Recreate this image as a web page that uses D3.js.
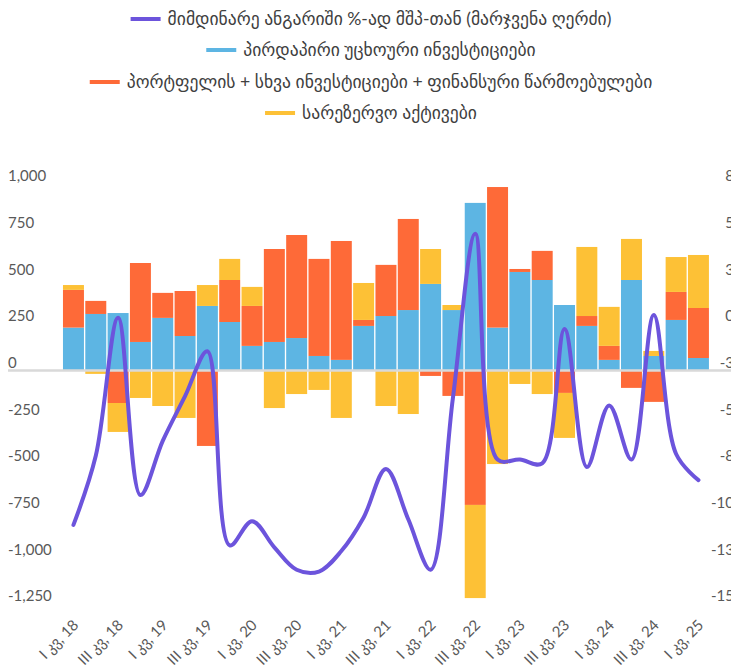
<!DOCTYPE html>
<html>
<head>
<meta charset="utf-8">
<script src="https://cdn.jsdelivr.net/npm/d3@7"></script>
<style>
  body { margin: 0; background: #fff; }
  text { font-family: Lato, "DejaVu Sans", sans-serif; }
</style>
</head>
<body>
<div id="chart"></div>
<script>
// quarters, I 2018 - I 2025
var quarters = ["I კვ, 18","II კვ, 18","III კვ, 18","IV კვ, 18",
                "I კვ, 19","II კვ, 19","III კვ, 19","IV კვ, 19",
                "I კვ, 20","II კვ, 20","III კვ, 20","IV კვ, 20",
                "I კვ, 21","II კვ, 21","III კვ, 21","IV კვ, 21",
                "I კვ, 22","II კვ, 22","III კვ, 22","IV კვ, 22",
                "I კვ, 23","II კვ, 23","III კვ, 23","IV კვ, 23",
                "I კვ, 24","II კვ, 24","III კვ, 24","IV კვ, 24",
                "I კვ, 25"]

// financial account components, mln USD (left axis)
var fdi       = [227,300,305,150,279,182,343,257,129,150,171,75,54,236,289,321,461,321,895,227,525,482,348,236,54,482,75,268,64]
var portfolio = [202,70,-177,423,134,241,-407,225,214,498,552,520,637,32,274,488,-32,-139,-723,753,16,156,-123,53,75,-96,-171,150,268]
var reserves  = [26,-21,-155,-150,-193,-257,112,113,102,-204,-129,-107,-257,198,-193,-236,187,27,-499,-504,-75,-129,-241,370,209,220,27,187,284]

// current account, % of GDP (right axis)
var currentAccount = [-10.8,-7.1,0.3,-9.2,-6.3,-3.9,-1.5,-11.9,-10.6,-12.0,-13.2,-13.3,-12.2,-10.4,-7.8,-10.5,-13.2,-4.0,4.8,-7.3,-7.3,-7.5,-0.3,-7.7,-4.4,-7.3,0.45,-7.0,-8.4]

var leftTicks  = [1000,750,500,250,0,-250,-500,-750,-1000,-1250]
var rightTicks = [7.5,5,2.5,0,-2.5,-5,-7.5,-10,-12.5,-15]

var keys = ["fdi","portfolio","reserves"]
var colors = { fdi: "#5db5e3", portfolio: "#fe6a38", reserves: "#fdc136", ca: "#6c54dc" }
var legendItems = [
    { key: "ca", label: "მიმდინარე ანგარიში %-ად მშპ-თან (მარჯვენა ღერძი)" },
    { key: "fdi", label: "პირდაპირი უცხოური ინვესტიციები" },
    { key: "portfolio", label: "პორტფელის + სხვა ინვესტიციები + ფინანსური წარმოებულები" },
    { key: "reserves", label: "სარეზერვო აქტივები" }
]

var width = 731, height = 669
var locale = d3.formatLocale({ decimal: ".", thousands: ",", grouping: [3], currency: ["", ""], minus: "-" })
var fmtLeft = locale.format(",.0f")
var fmtRight = locale.format(".0f")

var svg = d3.select("#chart").append("svg")
            .attr("width", width)
            .attr("height", height)

var x = d3.scaleBand()
          .domain(quarters)
          .range([62.3, 709.6])
          .paddingInner(0.06)
          .paddingOuter(0.03)

var y = d3.scaleLinear().domain([-1250, 1000]).range([603.3, 183.3])
var yRight = d3.scaleLinear().domain([-15, 7.5]).range([603.3, 183.3])

var table = quarters.map(function(q, i) {
    return { quarter: q, fdi: fdi[i], portfolio: portfolio[i], reserves: reserves[i] }
})

var series = d3.stack()
               .keys(keys)
               .offset(d3.stackOffsetDiverging)(table)

// bars
svg.append("g").selectAll("g")
   .data(series)
   .join("g")
   .attr("fill", function(d) { return colors[d.key] })
   .selectAll("rect")
   .data(function(d) { return d })
   .join("rect")
   .attr("x", function(d) { return x(d.data.quarter) })
   .attr("y", function(d) { return y(Math.max(d[0], d[1])) })
   .attr("width", x.bandwidth())
   .attr("height", function(d) { return Math.abs(y(d[0]) - y(d[1])) })

// zero line
svg.append("line")
   .attr("x1", 8).attr("x2", width)
   .attr("y1", y(0) + 0.5).attr("y2", y(0) + 0.5)
   .attr("stroke", "#d9d9d9")
   .attr("stroke-width", 2.5)

// left axis labels
svg.append("g").selectAll("text")
   .data(leftTicks)
   .join("text")
   .attr("x", 8)
   .attr("y", function(d) { return y(d) - 2 })
   .attr("font-size", 15)
   .attr("fill", "#595959")
   .text(function(d) { return fmtLeft(d) })

// right axis labels (cut by the page edge)
svg.append("g").selectAll("text")
   .data(rightTicks)
   .join("text")
   .attr("x", 734)
   .attr("y", function(d) { return yRight(d) - 2 })
   .attr("font-size", 15)
   .attr("fill", "#595959")
   .style("text-anchor", "end")
   .text(function(d) { return fmtRight(d) })

// x labels, every second quarter
svg.append("g").selectAll("text")
   .data(quarters.filter(function(d, i) { return i % 2 == 0 }))
   .join("text")
   .attr("font-size", 15)
   .attr("fill", "#595959")
   .style("text-anchor", "end")
   .attr("transform", function(d) {
       return "translate(" + (x(d) + x.bandwidth() / 2 + 6) + ",626) rotate(-45)"
   })
   .text(function(d) { return d })

// current account line
var line = d3.line()
             .x(function(d, i) { return x(quarters[i]) + x.bandwidth() / 2 })
             .y(function(d) { return yRight(d) })
             .curve(d3.curveCatmullRom)

svg.append("path")
   .datum(currentAccount)
   .attr("d", line)
   .attr("fill", "none")
   .attr("stroke", colors.ca)
   .attr("stroke-width", 4)
   .attr("stroke-linecap", "round")

// legend, one centred row per item
var legendY = [19, 50, 82, 113]
legendItems.forEach(function(item, i) {
    var g = svg.append("g")
    g.append("line")
     .attr("x1", 0).attr("x2", 30)
     .attr("y1", 0).attr("y2", 0)
     .attr("stroke", colors[item.key])
     .attr("stroke-width", 4)
    var t = g.append("text")
             .attr("x", 37)
             .attr("dy", "0.35em")
             .attr("font-size", 17.6)
             .attr("fill", "#404040")
             .text(item.label)
    var w = 37 + t.node().getComputedTextLength()
    g.attr("transform", "translate(" + (371 - w / 2) + "," + legendY[i] + ")")
})
</script>
</body>
</html>
